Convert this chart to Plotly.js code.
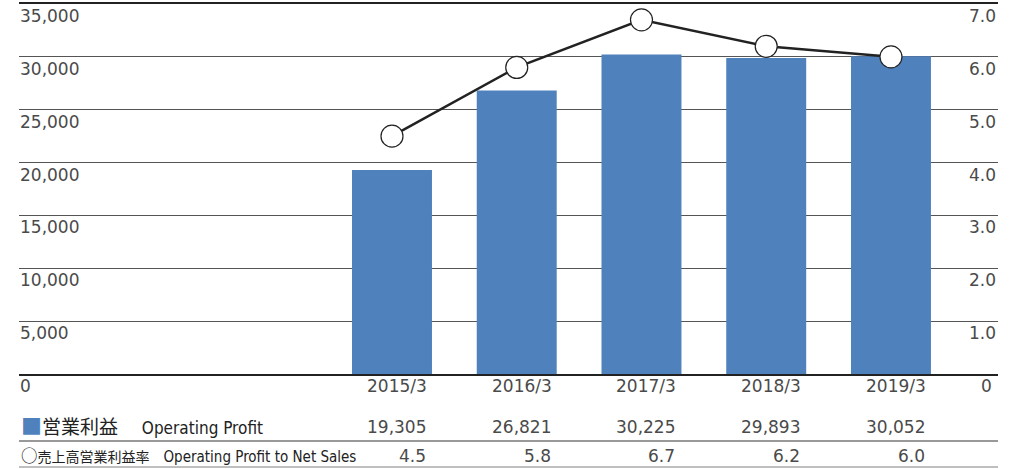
<!DOCTYPE html>
<html>
<head>
<meta charset="utf-8">
<script src="https://cdn.plot.ly/plotly-3.0.1.min.js"></script>
<style>html,body{margin:0;padding:0;background:#fff;}#chart{width:1020px;height:469px;}</style>
</head>
<body>
<div id="chart"></div>
<script>
const categories = ["2015/3", "2016/3", "2017/3", "2018/3", "2019/3"];
const operatingProfit = [19305, 26821, 30225, 29893, 30052];
const profitMargin = [4.5, 5.8, 6.7, 6.2, 6.0];
const profitLabels = ["19,305", "26,821", "30,225", "29,893", "30,052"];
const marginLabels = ["4.5", "5.8", "6.7", "6.2", "6.0"];
const leftTicks = [5000, 10000, 15000, 20000, 25000, 30000, 35000];
const leftTickText = ["5,000", "10,000", "15,000", "20,000", "25,000", "30,000", "35,000"];
const rightTicks = [1, 2, 3, 4, 5, 6, 7];
const rightTickText = ["1.0", "2.0", "3.0", "4.0", "5.0", "6.0", "7.0"];
const row1Label = '<span style="font-family:\'Noto Sans CJK JP\';font-size:19px"><span style="color:#4F81BD;font-size:21px">■</span>営業利益　</span> Operating Profit';
const row2Label = '<span style="font-family:\'Noto Sans CJK JP\';font-size:14px"><span style="font-size:16.5px">○</span>売上高営業利益率　</span>Operating Profit to Net Sales';

const numFont = {family: "DejaVu Sans, sans-serif", size: 17, color: "#4a4a4a"};
const narrowFam = "DejaVu Sans Condensed, Noto Sans CJK JP, sans-serif";

const traces = [
  {type: "bar", x: categories, y: operatingProfit, marker: {color: "#4F81BD"}, width: 0.641, hoverinfo: "skip", yaxis: "y"},
  {type: "scatter", mode: "lines+markers", x: categories, y: profitMargin, yaxis: "y2",
   line: {color: "#222", width: 2.5},
   marker: {size: 22, color: "#fff", line: {color: "#222", width: 1.2}}, hoverinfo: "skip", cliponaxis: false}
];

const annotations = [];
leftTicks.forEach((v, i) => annotations.push({xref: "paper", yref: "y", x: 0, y: v, xanchor: "left", yanchor: "top", text: leftTickText[i], showarrow: false, font: numFont, xshift: -1}));
rightTicks.forEach((v, i) => annotations.push({xref: "paper", yref: "y2", x: 1, y: v, xanchor: "right", yanchor: "top", text: rightTickText[i], showarrow: false, font: numFont}));
annotations.push({xref: "paper", yref: "y", x: 0, y: 0, xanchor: "left", yanchor: "top", text: "0", showarrow: false, font: numFont, xshift: -1});
annotations.push({xref: "paper", yref: "y2", x: 1, y: 0, xanchor: "right", yanchor: "top", text: "0", showarrow: false, font: numFont, xshift: -4});
categories.forEach((c, i) => {
  annotations.push({xref: "x", yref: "paper", x: i, y: 0, yanchor: "middle", yshift: -12, xanchor: "right", xshift: 37, text: c, showarrow: false, font: numFont});
  annotations.push({xref: "x", yref: "paper", x: i, y: 0, yanchor: "middle", yshift: -53, xanchor: "right", xshift: 36, text: profitLabels[i], showarrow: false, font: numFont});
  annotations.push({xref: "x", yref: "paper", x: i, y: 0, yanchor: "middle", yshift: -82, xanchor: "right", xshift: 36, text: marginLabels[i], showarrow: false, font: numFont});
});
annotations.push({xref: "paper", yref: "paper", x: 0, y: 0, xanchor: "left", yanchor: "middle", yshift: -51, text: row1Label, showarrow: false, font: {family: narrowFam, size: 17, color: "#222"}});
annotations.push({xref: "paper", yref: "paper", x: 0, y: 0, xanchor: "left", yanchor: "middle", yshift: -80.5, text: row2Label, showarrow: false, font: {family: narrowFam, size: 15, color: "#222"}});

const layout = {
  width: 1020, height: 469,
  margin: {l: 19, r: 22, t: 4, b: 95},
  paper_bgcolor: "#fff", plot_bgcolor: "#fff",
  showlegend: false,
  xaxis: {type: "category", range: [-2.99, 4.858], showticklabels: false, ticks: "", showgrid: false,
          showline: true, mirror: true, linecolor: "#222", linewidth: 2, zeroline: false, fixedrange: true},
  yaxis: {range: [0, 35000], tickvals: leftTicks, showticklabels: false, ticks: "", showgrid: true,
          gridcolor: "#555", gridwidth: 1, zeroline: false, showline: false, fixedrange: true},
  yaxis2: {overlaying: "y", side: "right", range: [0, 7], showticklabels: false, ticks: "", showgrid: false,
           zeroline: false, showline: false, fixedrange: true},
  annotations: annotations,
  shapes: [
    {type: "line", xref: "paper", yref: "paper", x0: 0, x1: 1, y0: -(441 - 374) / 370, y1: -(441 - 374) / 370, line: {color: "#777", width: 1.5}},
    {type: "line", xref: "paper", yref: "paper", x0: 0, x1: 1, y0: -(467 - 374) / 370, y1: -(467 - 374) / 370, line: {color: "#aaa", width: 1.5}}
  ]
};

Plotly.newPlot("chart", traces, layout, {displayModeBar: false, staticPlot: true});
</script>
</body>
</html>
